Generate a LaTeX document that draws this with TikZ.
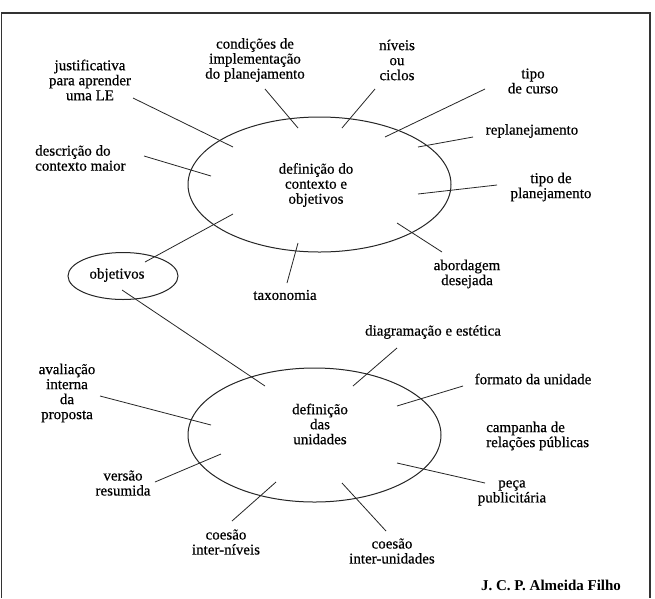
\documentclass[tikz,border=0pt]{standalone}
\usepackage{fontspec}
\setmainfont{Liberation Serif}
\newfontfamily\lblfont{Liberation Serif}[FakeBold=0.5]
\usetikzlibrary{shapes.geometric}
\begin{document}
\begin{tikzpicture}[x=1pt,y=-1pt,
  every node/.style={font=\lblfont\fontsize{15}{15}\selectfont, inner sep=0pt, align=center},
  spoke/.style={line width=0.8pt, black!85},
  bubble/.style={draw, ellipse, line width=1pt, black!85, inner sep=0pt, outer sep=0pt},
  frameline/.style={line width=1.2pt, black!80}]
\useasboundingbox (0,0) rectangle (655,598);
\fill[white] (0,0) rectangle (655,598);
\draw[frameline] (1.5,598) -- (1.5,13) -- (650,13) -- (650,598);

% ellipses
\node[bubble, minimum width=263pt, minimum height=135pt] (ctx) at (319.5,184.5) {};
\node[bubble, minimum width=110pt, minimum height=47pt] (obj) at (123,276) {};
\node[bubble, minimum width=253pt, minimum height=134pt] (uni) at (314.5,435) {};

% texts
\node (ctxt) at (316,185) {definição do\\contexto e\\objetivos};
\node (objt) at (117,275) {objetivos};
\node (unit) at (320,424) {definição\\das\\unidades};

\node (just) at (90,80) {justificativa\\para aprender\\uma LE};
\node (cond) at (255,60) {condições de\\implementação\\do planejamento};
\node (niv) at (397,60) {níveis\\ou\\ciclos};
\node (curso) at (533,81) {tipo\\de curso};
\node (replan) at (532,131) {replanejamento};
\node[anchor=west, align=left] (desc) at (35,158) {descrição do\\contexto maior};
\node (tplan) at (551,187) {tipo de\\planejamento};
\node (abord) at (467,274) {abordagem\\desejada};
\node (tax) at (285,295) {taxonomia};
\node (diag) at (433,332) {diagramação e estética};
\node (aval) at (67,393) {avaliação\\interna\\da\\proposta};
\node (form) at (533,379) {formato da unidade};
\node[anchor=west, align=left] (camp) at (486,436) {campanha de\\relações públicas};
\node (vers) at (123,483) {versão\\resumida};
\node (peca) at (512,493) {peça\\publicitária};
\node (cniv) at (226,542) {coesão\\inter-níveis};
\node (cuni) at (392,551) {coesão\\inter-unidades};
\node[font=\rmfamily\fontsize{15}{15}\selectfont\bfseries] (auth) at (551,585) {J. C. P. Almeida Filho};

% spokes
\foreach \n/\ax/\ay/\bx/\by in {
  sjust/133/98/233/147,
  scond/265/89/298/128,
  sniv/375/89/342/128,
  scurso/485/89/385/137,
  sreplan/473/137/418/147,
  sdesc/144/156/211/176,
  stplan/497/185/418/194,
  sabord/397/223/442/252,
  stax/298/243/287/283,
  sobjc/145/262/233/214,
  sobju/122/290/265/386,
  sdiag/397/348/353/386,
  sform/463/386/397/406,
  saval/100/396/211/425,
  svers/155/482/221/454,
  scniv/232/521/276/482,
  scuni/342/483/386/531,
  speca/397/463/485/483}
{
  \coordinate (\n-a) at (\ax,\ay);
  \coordinate (\n-b) at (\bx,\by);
  \draw[spoke] (\n-a) -- (\n-b);
}
\end{tikzpicture}
\end{document}
